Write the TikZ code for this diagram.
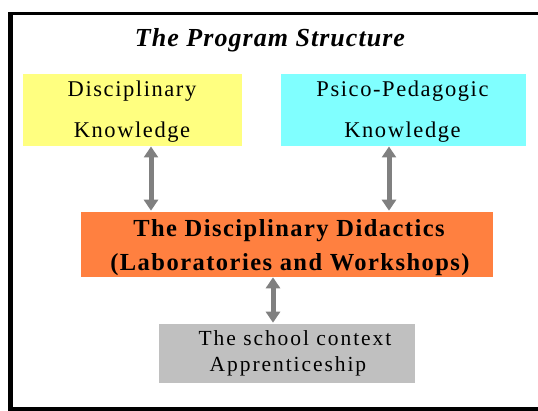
\documentclass[tikz,border=0pt]{standalone}
\usepackage{fontspec}
\setmainfont{Liberation Serif}
\newfontfamily\spacedA[LetterSpace=7]{Liberation Serif}
\newfontfamily\spacedB[LetterSpace=6]{Liberation Serif}
\newfontfamily\spacedC[LetterSpace=9]{Liberation Serif}
\newfontfamily\spacedT[LetterSpace=4]{Liberation Serif}
\usetikzlibrary{arrows.meta}
\definecolor{boxyellow}{HTML}{FFFF80}
\definecolor{boxcyan}{HTML}{80FFFF}
\definecolor{boxorange}{HTML}{FF8040}
\definecolor{boxgrey}{HTML}{C0C0C0}
\definecolor{arrgrey}{HTML}{808080}
\tikzset{
  box/.style={inner sep=0pt, draw=white, line width=0.6pt},
  lbl/.style={anchor=base, inner sep=0pt, text=black},
  knowfont/.style={font=\spacedA\fontsize{22.5}{24}\selectfont},
  didfont/.style={font=\spacedB\bfseries\fontsize{24.5}{26}\selectfont},
  schoolfont/.style={font=\spacedC\fontsize{21.5}{23}\selectfont},
  dblarrow/.style={draw=arrgrey, line width=5pt,
    {Triangle[width=14pt,length=11pt]}-{Triangle[width=14pt,length=11pt]}},
}
\begin{document}
\begin{tikzpicture}[x=1pt,y=-1pt]
\useasboundingbox (0,0) rectangle (538,411);
% frame (open on the right)
\fill[black] (8.3,11.7) rectangle (538,15);
\fill[black] (8.3,11.7) rectangle (13.3,411);
\fill[black] (8.3,407.3) rectangle (538,410.7);
% title
\node[lbl] (title) at (270,46.7)
  {\spacedT\fontsize{26}{28}\selectfont\bfseries\itshape The Program Structure};
% boxes
\node[box, fill=boxyellow, minimum width=219.5pt, minimum height=73pt] (disc) at (132.2,109.7) {};
\node[box, fill=boxcyan, minimum width=246pt, minimum height=73pt] (psico) at (403,109.7) {};
\node[box, fill=boxorange, minimum width=413.5pt, minimum height=66pt] (didac) at (286.8,244) {};
\node[box, fill=boxgrey, minimum width=257pt, minimum height=60pt] (school) at (286.5,353) {};
% texts
\node[lbl, knowfont] (disc1) at (132,96.7) {Disciplinary};
\node[lbl, knowfont] (disc2) at (132,137.7) {Knowledge};
\node[lbl, knowfont] (psico1) at (402.5,96.7) {Psico-Pedagogic};
\node[lbl, knowfont] (psico2) at (402.5,137.7) {Knowledge};
\node[lbl, didfont] (didac1) at (289,237) {The Disciplinary Didactics};
\node[lbl, didfont] (didac2) at (290,271) {(Laboratories and Workshops)};
\node[lbl, schoolfont] (school1) at (295,346) {The school context};
\node[lbl, schoolfont] (school2) at (288,372) {Apprenticeship};
% arrows
\coordinate (c1) at (151,0);
\coordinate (c2) at (389,0);
\coordinate (c3) at (273,0);
\draw[dblarrow] (disc.south -| c1) -- (didac.north -| c1);
\draw[dblarrow] (psico.south -| c2) -- (didac.north -| c2);
\draw[dblarrow] (didac.south -| c3) -- (school.north -| c3);
\end{tikzpicture}
\end{document}
